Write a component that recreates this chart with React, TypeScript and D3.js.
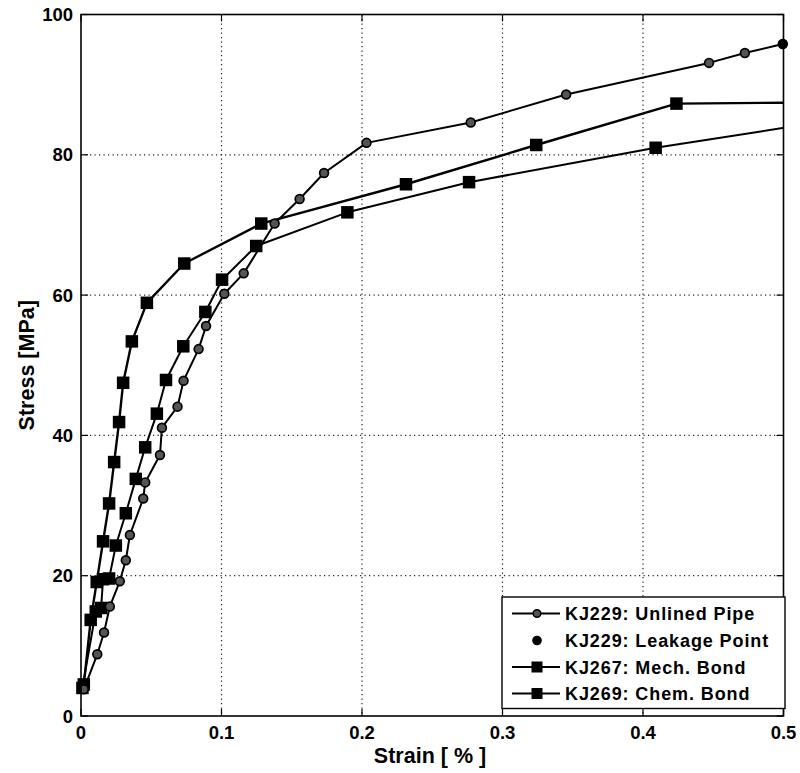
import React from "react";
import * as d3 from "d3";

// ---- data ----
const unlinedStrain = [0.002, 0.0116, 0.0164, 0.0205, 0.0276, 0.0319, 0.0348, 0.0443, 0.0457, 0.0562, 0.0576, 0.0687, 0.073, 0.0837, 0.089, 0.102, 0.1158, 0.1378, 0.1556, 0.173, 0.2032, 0.2774, 0.3453, 0.447, 0.4725, 0.4995];
const unlinedStress = [3.8, 8.8, 11.9, 15.6, 19.2, 22.2, 25.8, 31.0, 33.3, 37.2, 41.1, 44.1, 47.8, 52.3, 55.6, 60.2, 63.1, 70.2, 73.7, 77.4, 81.7, 84.6, 88.6, 93.1, 94.5, 95.8];

const leakageStrain = [0.4995];
const leakageStress = [95.8];

const mechStrain = [0.002, 0.0069, 0.0112, 0.0157, 0.02, 0.0236, 0.0271, 0.03, 0.0362, 0.0469, 0.0735, 0.1283, 0.2313, 0.324, 0.4238, 0.55];
const mechStress = [4.5, 13.7, 19.1, 24.9, 30.3, 36.2, 41.9, 47.5, 53.4, 58.9, 64.5, 70.2, 75.8, 81.4, 87.3, 87.5];

const chemStrain = [0.001, 0.0105, 0.0143, 0.0157, 0.02, 0.0248, 0.0319, 0.039, 0.0457, 0.054, 0.0605, 0.0728, 0.0885, 0.1004, 0.1247, 0.1896, 0.2762, 0.409, 0.55];
const chemStress = [4.0, 14.9, 15.4, 19.5, 19.6, 24.3, 28.9, 33.8, 38.3, 43.1, 47.9, 52.7, 57.6, 62.2, 67.0, 71.8, 76.1, 81.0, 85.4];

const xTicks = [0, 0.1, 0.2, 0.3, 0.4, 0.5];
const yTicks = [0, 20, 40, 60, 80, 100];
const xTickLabels = ["0", "0.1", "0.2", "0.3", "0.4", "0.5"];
const yTickLabels = ["0", "20", "40", "60", "80", "100"];

const legendLabels = ["KJ229: Unlined Pipe", "KJ229: Leakage Point", "KJ267: Mech. Bond", "KJ269: Chem. Bond"];
const xLabel = "Strain [ % ]";
const yLabel = "Stress [MPa]";

const W = 800;
const H = 773;
const L = 81, R = 783.5, T = 14.5, B = 716;
const FONT = "'Liberation Sans', Arial, Helvetica, sans-serif";

export default function App() {
  const x = d3.scaleLinear().domain([0, 0.5]).range([L, R]);
  const y = d3.scaleLinear().domain([0, 100]).range([B, T]);
  const line = d3.line<[number, number]>().x((d) => x(d[0])).y((d) => y(d[1]));

  const zip = (a: number[], b: number[]) => a.map((v, i) => [v, b[i]] as [number, number]);
  const unlined = zip(unlinedStrain, unlinedStress);
  const leakage = zip(leakageStrain, leakageStress);
  const mech = zip(mechStrain, mechStress);
  const chem = zip(chemStrain, chemStress);

  const sq = 12.5;
  const square = (d: [number, number], i: number) => (
    <rect key={i} x={x(d[0]) - sq / 2} y={y(d[1]) - sq / 2} width={sq} height={sq} fill="#000" />
  );
  const circle = (d: [number, number], i: number) => (
    <circle key={i} cx={x(d[0])} cy={y(d[1])} r={4.4} fill="#555" stroke="#000" strokeWidth={1.7} />
  );

  // legend
  const lgL = 502, lgT = 597, lgR = 785, lgB = 708.5;
  const rowY = [613.5, 640.5, 667, 693.5];
  const sx1 = 512, sx2 = 560, smx = 537, tx = 565;

  return (
    <div style={{ position: "absolute", left: 0, top: 0 }}>
      <svg width={W} height={H} style={{ display: "block", background: "#fff" }}>
        <defs>
          <clipPath id="plotClip">
            <rect x={L} y={T} width={R - L} height={B - T} />
          </clipPath>
          <clipPath id="markClip">
            <rect x={L - 8} y={T - 8} width={R - L + 16} height={B - T + 16} />
          </clipPath>
        </defs>
        <rect x={0} y={0} width={W} height={H} fill="#fff" />

        {/* grid */}
        {xTicks.filter((t) => t > 0 && t < 0.5).map((t) => (
          <line key={"gx" + t} x1={x(t)} x2={x(t)} y1={T} y2={B} stroke="#222" strokeWidth={1.2} strokeDasharray="1.2,3.3" />
        ))}
        {yTicks.filter((t) => t > 0 && t < 100).map((t) => (
          <line key={"gy" + t} x1={L} x2={R} y1={y(t)} y2={y(t)} stroke="#222" strokeWidth={1.2} strokeDasharray="1.2,3.3" />
        ))}

        {/* ticks (inward) */}
        {xTicks.map((t) => (
          <g key={"tx" + t}>
            <line x1={x(t)} x2={x(t)} y1={B} y2={B - 7} stroke="#000" strokeWidth={1.2} />
            <line x1={x(t)} x2={x(t)} y1={T} y2={T + 7} stroke="#000" strokeWidth={1.2} />
          </g>
        ))}
        {yTicks.map((t) => (
          <g key={"ty" + t}>
            <line x1={L} x2={L + 7} y1={y(t)} y2={y(t)} stroke="#000" strokeWidth={1.2} />
            <line x1={R} x2={R - 7} y1={y(t)} y2={y(t)} stroke="#000" strokeWidth={1.2} />
          </g>
        ))}

        {/* series lines */}
        <g clipPath="url(#plotClip)" fill="none" stroke="#000" strokeLinejoin="round">
          <path d={line(unlined) || ""} strokeWidth={2} />
          <path d={line(chem) || ""} strokeWidth={2} />
          <path d={line(mech) || ""} strokeWidth={2.4} />
        </g>
        {/* markers */}
        <g clipPath="url(#markClip)">
          {chem.map(square)}
          {mech.map(square)}
          {unlined.map(circle)}
          {leakage.map((d, i) => (
            <circle key={"lk" + i} cx={x(d[0])} cy={y(d[1])} r={4.8} fill="#000" />
          ))}
        </g>

        {/* axes box */}
        <rect x={L} y={T} width={R - L} height={B - T} fill="none" stroke="#000" strokeWidth={1.6} />

        {/* tick labels */}
        {xTicks.map((t, i) => (
          <text key={"xl" + t} x={x(t)} y={738.5} textAnchor="middle" fontFamily={FONT} fontWeight="bold" fontSize={18.5} fill="#000">
            {xTickLabels[i]}
          </text>
        ))}
        {yTicks.map((t, i) => (
          <text key={"yl" + t} x={73} y={y(t) + 6.5} textAnchor="end" fontFamily={FONT} fontWeight="bold" fontSize={18.5} fill="#000">
            {yTickLabels[i]}
          </text>
        ))}

        {/* axis labels */}
        <text x={430} y={763} textAnchor="middle" fontFamily={FONT} fontWeight="bold" fontSize={21.5} fill="#000">
          {xLabel}
        </text>
        <text transform={`translate(34,${(T + B) / 2}) rotate(-90)`} textAnchor="middle" fontFamily={FONT} fontWeight="bold" fontSize={21.5} fill="#000">
          {yLabel}
        </text>

        {/* legend */}
        <rect x={lgL} y={lgT} width={lgR - lgL} height={lgB - lgT} fill="#fff" stroke="#000" strokeWidth={1.4} />
        {rowY.map((ry, i) => (
          <g key={"lg" + i}>
            {i !== 1 && <line x1={sx1} x2={sx2} y1={ry} y2={ry} stroke="#000" strokeWidth={2} />}
            {i === 0 && <circle cx={smx} cy={ry} r={3.8} fill="#555" stroke="#000" strokeWidth={1.5} />}
            {i === 1 && <circle cx={smx} cy={ry} r={4.8} fill="#000" />}
            {i >= 2 && <rect x={smx - 5.5} y={ry - 5.5} width={11} height={11} fill="#000" />}
            <text x={tx} y={ry + 6.5} fontFamily={FONT} fontWeight="bold" fontSize={18} letterSpacing={0.9} fill="#000">
              {legendLabels[i]}
            </text>
          </g>
        ))}
      </svg>
    </div>
  );
}
